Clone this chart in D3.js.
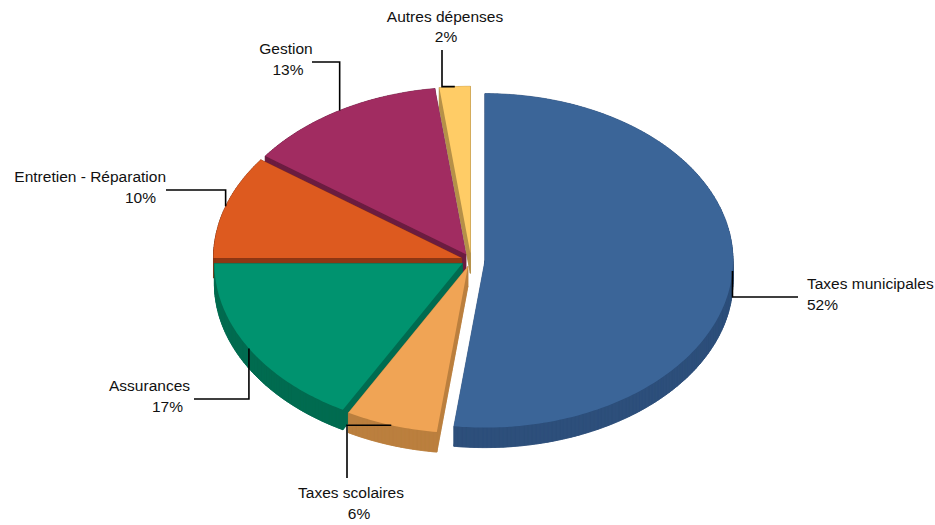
<!DOCTYPE html>
<html>
<head>
<meta charset="utf-8">
<script src="https://cdn.jsdelivr.net/npm/d3@7/dist/d3.min.js"></script>
<style>
  html, body { margin: 0; padding: 0; background: #fff; }
  svg { display: block; }
  text { font-family: "Liberation Sans", Arial, sans-serif; font-size: 15.5px; fill: #111; }
</style>
</head>
<body>
<svg id="chart" width="935" height="525"></svg>
<script>
// Répartition des dépenses (%)
const categories = ["Taxes municipales", "Taxes scolaires", "Assurances", "Entretien - Réparation", "Gestion", "Autres dépenses"];
const shares = [52, 6, 17, 10, 13, 2];

// Couleurs du dessus et des flancs de chaque part
const topColors  = ["#3b6598", "#f0a455", "#00936f", "#dd5a1f", "#a12c61", "#ffcc66"];
const sideColors = ["#2d4f7b", "#bb7f3e", "#006b50", "#8e3714", "#6b1c40", "#b69048"];

// Géométrie du camembert incliné
const geo = { cx: 471, cy: 260, rx: 248, ry: 167, depth: 20 };
const explode = [14, 10, 10, 10, 10, 10];

// Étiquettes : extrémité du trait de rappel, sens du coude et placement du texte
const labelLayout = [
  { end: [798, 297], first: "v", anchor: "start",  x1: 807, x2: 807, y1: 289, y2: 310 },
  { end: [347, 478], first: "h", anchor: "middle", x1: 351, x2: 359, y1: 498, y2: 519 },
  { end: [194, 399], first: "v", anchor: "end",    x1: 190, x2: 183, y1: 391, y2: 412 },
  { end: [166, 190], first: "v", anchor: "end",    x1: 166, x2: 156, y1: 182, y2: 203 },
  { end: [312, 62],  first: "v", anchor: "middle", x1: 286, x2: 288, y1: 54,  y2: 75 },
  { end: [442, 50],  first: "h", anchor: "middle", x1: 445, x2: 446, y1: 22,  y2: 42 }
];

const svg = d3.select("#chart");

const pie = d3.pie().sort(null).value(d => d).startAngle(0).endAngle(2 * Math.PI);
const arcs = pie(shares);

const k = geo.ry / geo.rx;
function offsetFor(a, i) {
  const m = (a.startAngle + a.endAngle) / 2;
  const e = explode[i];
  return [e * Math.sin(m), -e * Math.cos(m) * k];
}
function onRim(theta, off) {
  return [geo.cx + off[0] + geo.rx * Math.sin(theta), geo.cy + off[1] - geo.ry * Math.cos(theta)];
}

const line = d3.line();

const slices = arcs.map((a, i) => {
  const off = offsetFor(a, i);
  const apex = [geo.cx + off[0], geo.cy + off[1]];
  const n = Math.max(8, Math.ceil((a.endAngle - a.startAngle) * 60));
  const rim = d3.range(n + 1).map(j => onRim(a.startAngle + (a.endAngle - a.startAngle) * j / n, off));
  const mid = (a.startAngle + a.endAngle) / 2;
  return { i, a, off, pts: [apex, ...rim], mid, anchor: onRim(mid, off) };
});

// Tracé de l'arrière vers l'avant
const order = slices.slice().sort((s, t) => (-Math.cos(s.mid)) - (-Math.cos(t.mid)));

const body = svg.append("g");
order.forEach(s => {
  const g = body.append("g");
  const d = geo.depth;
  const low = s.pts.map(p => [p[0], p[1] + d]);
  const side = sideColors[s.i];
  g.append("path")
    .attr("d", line(low) + "Z")
    .attr("fill", side).attr("stroke", side).attr("stroke-width", 0.6);
  for (let j = 0; j < s.pts.length; j++) {
    const p = s.pts[j], q = s.pts[(j + 1) % s.pts.length];
    g.append("path")
      .attr("d", line([p, q, [q[0], q[1] + d], [p[0], p[1] + d]]) + "Z")
      .attr("fill", side).attr("stroke", side).attr("stroke-width", 0.6);
  }
  g.append("path")
    .attr("d", line(s.pts) + "Z")
    .attr("fill", topColors[s.i]);
});

// Traits de rappel et étiquettes
const labels = svg.append("g");
slices.forEach(s => {
  const L = labelLayout[s.i];
  const [ax, ay] = s.anchor;
  const [ex, ey] = L.end;
  const elbow = L.first === "v" ? [ax, ey] : [ex, ay];
  labels.append("path")
    .attr("d", line([[ax, ay], elbow, [ex, ey]]))
    .attr("fill", "none").attr("stroke", "#000").attr("stroke-width", 1.6);
  labels.append("text")
    .attr("x", L.x1).attr("y", L.y1).attr("text-anchor", L.anchor)
    .text(categories[s.i]);
  labels.append("text")
    .attr("x", L.x2).attr("y", L.y2).attr("text-anchor", L.anchor)
    .text(d3.format(".0f")(shares[s.i]) + "%");
});
</script>
</body>
</html>
